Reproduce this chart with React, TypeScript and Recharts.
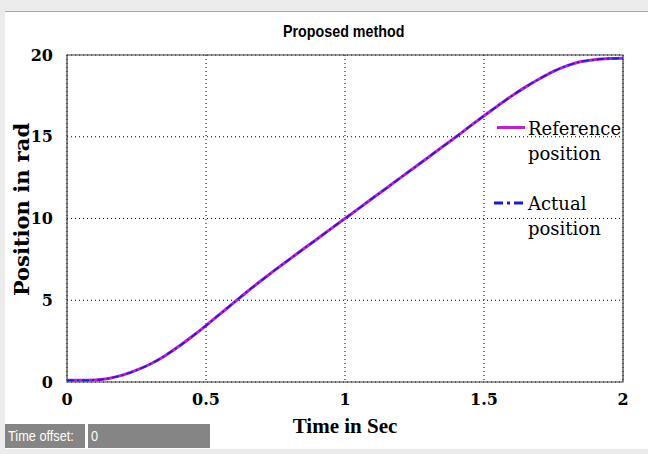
import React from 'react';
import { LineChart, Line, XAxis, YAxis, CartesianGrid, ReferenceArea } from 'recharts';

const times = [0, 0.05, 0.1, 0.15, 0.2, 0.25, 0.3, 0.35, 0.4, 0.45, 0.5, 0.55, 0.6, 0.65, 0.7, 0.75, 0.8, 0.85, 0.9, 0.95, 1.0, 1.05, 1.1, 1.15, 1.2, 1.25, 1.3, 1.35, 1.4, 1.45, 1.5, 1.55, 1.6, 1.65, 1.7, 1.75, 1.8, 1.85, 1.9, 1.95, 2.0];
const referencePos = [0.1, 0.1, 0.12, 0.22, 0.42, 0.72, 1.1, 1.58, 2.15, 2.78, 3.45, 4.15, 4.85, 5.55, 6.22, 6.87, 7.5, 8.13, 8.75, 9.38, 10, 10.62, 11.25, 11.87, 12.5, 13.12, 13.75, 14.38, 15.0, 15.65, 16.28, 16.9, 17.5, 18.05, 18.55, 19.0, 19.35, 19.6, 19.72, 19.78, 19.8];
const actualPos = [0.1, 0.1, 0.12, 0.22, 0.42, 0.72, 1.1, 1.58, 2.15, 2.78, 3.45, 4.15, 4.85, 5.55, 6.22, 6.87, 7.5, 8.13, 8.75, 9.38, 10, 10.62, 11.25, 11.87, 12.5, 13.12, 13.75, 14.38, 15.0, 15.65, 16.28, 16.9, 17.5, 18.05, 18.55, 19.0, 19.35, 19.6, 19.72, 19.78, 19.8];
const xTicks = [0, 0.5, 1, 1.5, 2];
const yTicks = [0, 5, 10, 15, 20];

const data = times.map((t, i) => ({ t, ref: referencePos[i], act: actualPos[i] }));

const tickStyle = { fontFamily: '"DejaVu Serif", serif', fontWeight: 'bold', fontSize: 16, fill: '#000' };
const narrow = { fontFamily: '"Liberation Sans", Arial, sans-serif', transformOrigin: 'left center', display: 'inline-block' } as const;

export default function App() {
  return (
    <div style={{ position: 'absolute', left: 0, top: 0, width: 648, height: 454, background: '#ececec', overflow: 'hidden' }}>
      <div style={{ position: 'absolute', left: 5, top: 11, width: 643, height: 437, background: '#fff', borderTop: '1px solid #a8a8a8' }} />
      <div style={{ position: 'absolute', left: 0, top: 0 }}>
        <LineChart width={648} height={454} data={data} margin={{ top: 55, right: 25, bottom: 42, left: 0 }}>
          <CartesianGrid stroke="#000" strokeDasharray="1 3" />
          <XAxis dataKey="t" type="number" domain={[0, 2]} ticks={xTicks} tick={tickStyle} tickLine={false} axisLine={false} height={30} tickMargin={6} interval={0} />
          <YAxis type="number" domain={[0, 20]} ticks={yTicks} tick={tickStyle} tickLine={false} axisLine={false} width={67} tickMargin={8} interval={0} />
          <ReferenceArea x1={0} x2={2} y1={0} y2={20} fill="none" stroke="#3a3a3a" strokeWidth={1.2} ifOverflow="visible" />
          <Line dataKey="ref" type="monotone" stroke="#c020c8" strokeWidth={3} dot={false} isAnimationActive={false} />
          <Line dataKey="act" type="monotone" stroke="#1a1ad8" strokeWidth={1.6} strokeDasharray="7 3 2 3" dot={false} isAnimationActive={false} />
        </LineChart>
      </div>
      <div style={{ position: 'absolute', left: 283, top: 22, whiteSpace: 'nowrap' }}>
        <span style={{ ...narrow, transform: 'scaleX(0.84)', fontWeight: 'bold', fontSize: 17, color: '#000' }}>Proposed method</span>
      </div>
      <div style={{ position: 'absolute', left: 245, top: 414, width: 200, textAlign: 'center', fontFamily: '"Liberation Serif", serif', fontWeight: 'bold', fontSize: 21, color: '#000', whiteSpace: 'nowrap' }}>Time in Sec</div>
      <div style={{ position: 'absolute', left: 21, top: 210, width: 0, height: 0 }}>
        <div style={{ position: 'absolute', left: -100, top: -13, width: 200, textAlign: 'center', transform: 'rotate(-90deg)', fontFamily: '"DejaVu Serif", serif', fontWeight: 'bold', fontSize: 21, color: '#000', whiteSpace: 'nowrap' }}>Position in rad</div>
      </div>
      <div style={{ position: 'absolute', left: 497, top: 126, width: 28, height: 3, background: '#c020c8' }} />
      <div style={{ position: 'absolute', left: 528, top: 116, fontFamily: '"DejaVu Serif", serif', fontSize: 18, lineHeight: '25px', color: '#000' }}>Reference<br />position</div>
      <svg style={{ position: 'absolute', left: 493, top: 200 }} width={32} height={6}>
        <line x1={1} y1={3} x2={31} y2={3} stroke="#1a1ad8" strokeWidth={3} strokeDasharray="9 4 3 4" />
      </svg>
      <div style={{ position: 'absolute', left: 528, top: 191, fontFamily: '"DejaVu Serif", serif', fontSize: 18, lineHeight: '25px', color: '#000' }}>Actual<br />position</div>
      <div style={{ position: 'absolute', left: 5, top: 424, width: 80, height: 24, background: '#858585', color: '#fff', lineHeight: '24px', paddingLeft: 3, boxSizing: 'border-box', whiteSpace: 'nowrap' }}>
        <span style={{ ...narrow, transform: 'scaleX(0.85)', fontSize: 15 }}>Time offset:</span>
      </div>
      <div style={{ position: 'absolute', left: 88, top: 424, width: 122, height: 24, background: '#858585', color: '#fff', lineHeight: '24px', paddingLeft: 3, boxSizing: 'border-box' }}>
        <span style={{ ...narrow, transform: 'scaleX(0.85)', fontSize: 15 }}>0</span>
      </div>
    </div>
  );
}
